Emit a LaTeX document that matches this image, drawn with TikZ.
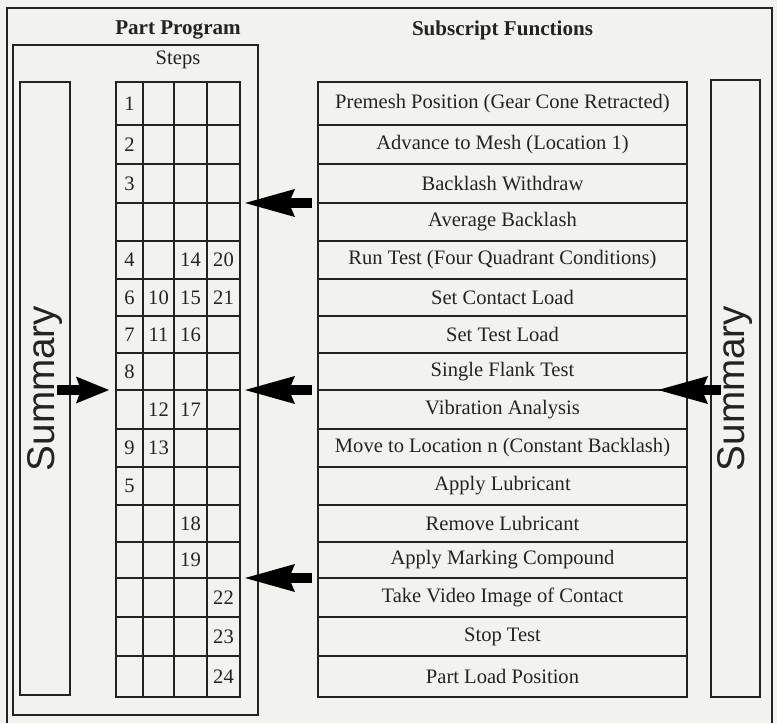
\documentclass[tikz,border=0pt]{standalone}
\usepackage{fontspec}
\setmainfont{Liberation Serif}
\newfontfamily\sumfont{Liberation Sans}
\usetikzlibrary{arrows.meta}
\definecolor{paper}{RGB}{242,242,238}
\definecolor{ink}{RGB}{35,35,35}

\begin{document}
\begin{tikzpicture}[x=0.02cm,y=-0.02cm,
    box/.style={draw=ink,line width=1.2pt},
    thinbox/.style={draw=ink,line width=0.9pt},
    heading/.style={text=ink,font=\fontsize{12}{14}\selectfont\bfseries},
    fn/.style={text=ink,font=\fontsize{11.7}{14}\selectfont},
    num/.style={text=ink,font=\fontsize{11.7}{14}\selectfont},
    sumbox/.style={box,rotate=90,minimum height=0.99cm,text=ink,
      font=\fontsize{22}{26}\sumfont},
    bigarrow/.style={line width=2mm,
      -{Stealth[length=10mm,width=5.6mm,inset=1.2mm,line width=0pt]}}]
  \fill[paper] (0,0) rectangle (777,723);
  \draw[thinbox] (7,723) |- (772,8) -- (772,723);
  \draw[thinbox] (13,45) rectangle (258,715);
  \node[heading] (pp) at (178,30) {Part Program};
  \node[heading] (sf) at (502.5,30) {Subscript Functions};
  \node[fn] (st) at (178,60) {Steps};
  % rows shared by the step grid and the function list
  \foreach \i/\a/\b/\t in {1/82/125/Premesh Position (Gear Cone Retracted),
      2/125/164/Advance to Mesh (Location 1),3/164/203/Backlash Withdraw,
      4/203/241/Average Backlash,5/241/279/Run Test (Four Quadrant Conditions),
      6/279/316/Set Contact Load,7/316/353/Set Test Load,
      8/353/390/Single Flank Test,9/390/429/Vibration Analysis,
      10/429/467/Move to Location n (Constant Backlash),
      11/467/505/Apply Lubricant,12/505/542/Remove Lubricant,
      13/542/578/Apply Marking Compound,14/578/617/Take Video Image of Contact,
      15/617/656/Stop Test,16/656/697/Part Load Position}{
    \draw[box] (116,\a) rectangle (240,\b);
    \draw[box] (318,\a) rectangle (687,\b);
    \node[fn] (f\i) at (502.5,{(\a+\b)/2}) {\t};
  }
  \foreach \x in {143,174,207} \draw[box] (\x,82) -- (\x,697);
  % step numbers
  \foreach \n/\x/\y in {1/129.5/103.5,2/129.5/144.5,3/129.5/183.5,
      4/129.5/260,14/190.5/260,20/223.5/260,
      6/129.5/297.5,10/158.5/297.5,15/190.5/297.5,21/223.5/297.5,
      7/129.5/334.5,11/158.5/334.5,16/190.5/334.5,8/129.5/371.5,
      12/158.5/409.5,17/190.5/409.5,9/129.5/448,13/158.5/448,
      5/129.5/486,18/190.5/523.5,19/190.5/560,
      22/223.5/597.5,23/223.5/636.5,24/223.5/676.5}
    \node[num] (s\n) at (\x,\y) {\n};
  % summary columns
  \node[sumbox,minimum width=12.26cm] (lsum) at (45,388.5) {Summary};
  \node[sumbox,minimum width=12.34cm] (rsum) at (735.5,388.5) {Summary};
  % arrows
  \foreach \k/\y in {3/203,8/390,13/578}{
    \coordinate (t\k) at (312,\y);
    \coordinate (h\k) at (245,\y);
    \draw[bigarrow] (t\k) -- (h\k);
  }
  \coordinate (lt) at (57,390);
  \coordinate (lh) at (109,390);
  \draw[bigarrow,-{Stealth[length=6.6mm,width=5.4mm,inset=1mm,line width=0pt]}] (lt) -- (lh);
  \coordinate (rt) at (721,390);
  \coordinate (rh) at (658,390);
  \draw[bigarrow] (rt) -- (rh);
\end{tikzpicture}
\end{document}
